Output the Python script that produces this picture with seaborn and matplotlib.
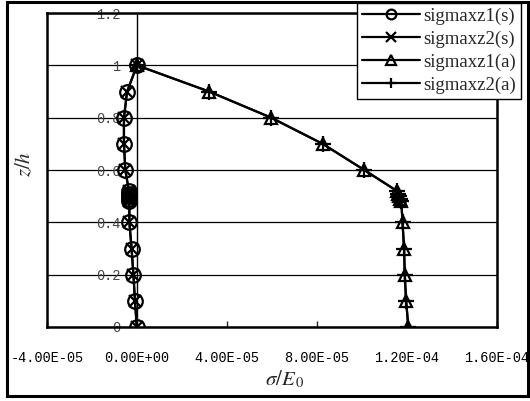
import pandas as pd
import seaborn as sns
from matplotlib import pyplot as plt
from matplotlib.lines import Line2D
from matplotlib.patches import Rectangle

# z/h positions (the cluster near 0.5 is the layer interface)
z_s = [1.0, 0.9, 0.8, 0.7, 0.6, 0.52, 0.51, 0.50, 0.49, 0.48, 0.4, 0.3, 0.2, 0.1, 0.0]
sig_s = [0.0, -4.4e-6, -5.8e-6, -5.8e-6, -5.2e-6, -3.6e-6, -3.5e-6, -3.4e-6, -3.4e-6, -3.4e-6,
         -3.4e-6, -2.4e-6, -1.6e-6, -0.9e-6, -0.1e-6]

z_a = [1.0, 0.9, 0.8, 0.7, 0.6, 0.52, 0.51, 0.50, 0.49, 0.48, 0.4, 0.3, 0.2, 0.1, 0.0]
sig_a = [0.0, 3.2e-5, 5.96e-5, 8.25e-5, 1.01e-4, 1.155e-4, 1.16e-4, 1.165e-4, 1.17e-4, 1.175e-4,
         1.18e-4, 1.187e-4, 1.19e-4, 1.196e-4, 1.206e-4]

series_names = ["sigmaxz1(s)", "sigmaxz2(s)", "sigmaxz1(a)", "sigmaxz2(a)"]
series_markers = ["o", "x", "^", "+"]

x_ticks = [-4e-5, 0, 4e-5, 8e-5, 1.2e-4, 1.6e-4]
x_ticklabels = ["-4.00E-05", "0.00E+00", "4.00E-05", "8.00E-05", "1.20E-04", "1.60E-04"]
y_ticks = [0, 0.2, 0.4, 0.6, 0.8, 1.0, 1.2]
y_ticklabels = ["0", "0.2", "0.4", "0.6", "0.8", "1", "1.2"]

sns.set_style("white")
plt.rcParams["mathtext.fontset"] = "stix"

fig = plt.figure(figsize=(5.30, 4.01), dpi=100)
ax = fig.add_axes([47 / 530, 74 / 401, 450 / 530, 314 / 401])

data = {
    "sigmaxz1(s)": (sig_s, z_s),
    "sigmaxz2(s)": (sig_s, z_s),
    "sigmaxz1(a)": (sig_a, z_a),
    "sigmaxz2(a)": (sig_a, z_a),
}
sizes = {"o": 10.5, "x": 9, "^": 9, "+": 12}
for name, mk in zip(series_names, series_markers):
    xs, zs = data[name]
    df = pd.DataFrame({"sigma": xs, "z": zs})
    sns.lineplot(data=df, x="sigma", y="z", sort=False, estimator=None, ax=ax,
                 color="black", linewidth=1.6, marker=mk, markersize=sizes[mk],
                 markerfacecolor="none", markeredgecolor="black", markeredgewidth=1.6,
                 legend=False)

ax.set_xlim(-4e-5, 1.6e-4)
ax.set_ylim(0, 1.2)
ax.set_xticks(x_ticks)
ax.set_xticklabels(x_ticklabels, family="Liberation Mono", fontsize=9.8, color="black")
ax.tick_params(axis="x", direction="in", length=4, width=1, pad=17, bottom=True)
ax.set_yticks(y_ticks)
ax.yaxis.grid(True, color="black", linewidth=0.9)
ax.xaxis.grid(False)
ax.tick_params(axis="y", left=False, labelleft=False)
for s in ax.spines.values():
    s.set_visible(True)
    s.set_color("black")
    s.set_linewidth(1.8)

# vertical axis crossing at sigma = 0
sec = ax.secondary_yaxis(0.2)
sec.set_yticks(y_ticks)
sec.set_yticklabels(y_ticklabels, family="Liberation Mono", fontsize=9.8, color="#444444")
sec.tick_params(axis="y", length=0, pad=12)
sec.spines["left"].set_linewidth(1.0)
sec.spines["left"].set_color("black")
sec.set_zorder(0.5)

ax.set_xlabel(r"$\sigma/E_{\,\mathit{0}}$", fontsize=15)
ax.xaxis.set_label_coords((285 - 47) / 450, -41 / 314)
ax.set_ylabel(r"$z/h$", fontsize=15)
ax.yaxis.set_label_coords(-13 / 450, 0.52)

handles = [Line2D([], [], color="black", linewidth=1.6, marker=mk, markersize=7,
                  markerfacecolor="none", markeredgecolor="black", markeredgewidth=1.6)
           for mk in series_markers]
leg = fig.legend(handles, series_names, loc="upper right", bbox_to_anchor=(521 / 530, 1 - 3 / 401),
                 frameon=True, fancybox=False, shadow=False, framealpha=1, edgecolor="black",
                 prop={"family": "Liberation Serif", "size": 13.5}, handlelength=3.1,
                 handletextpad=0.2, labelspacing=0.3, borderpad=0.25, borderaxespad=0)
leg.get_frame().set_linewidth(1.0)

fig.patches.append(Rectangle((7 / 530, 5 / 401), 521 / 530, 394 / 401, transform=fig.transFigure,
                             fill=False, edgecolor="black", linewidth=2.2))

fig.savefig("out.png", dpi=100)
